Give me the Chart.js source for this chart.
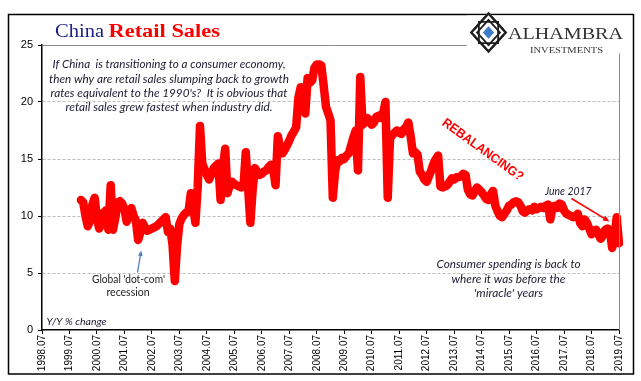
<!DOCTYPE html>
<html>
<head>
<meta charset="utf-8">
<script src="https://cdn.jsdelivr.net/npm/chart.js@4.4.0/dist/chart.umd.min.js"></script>
<style>
  html, body { margin: 0; padding: 0; background: #fff; }
</style>
</head>
<body>
<canvas id="chart" width="641" height="381"></canvas>
<script>
// monthly categories 1998.07 .. 2019.07, labelled every July
const firstYear = 1998, firstMonth = 7;
const lastYear = 2019, lastMonth = 7;
const months = [];
for (let y = firstYear; y <= lastYear; y++) {
    for (let m = 1; m <= 12; m++) {
        if (y === firstYear && m < firstMonth) continue;
        if (y === lastYear && m > lastMonth) break;
        months.push(y + '.' + String(m).padStart(2, '0'));
    }
}
const tickMonth = '.07';
const yTicks = [0, 5, 10, 15, 20, 25];

// China retail sales, Y/Y % change, starting 1999.12
const seriesStart = '1999.12';
const retailSales = [
    11.4,
    11.2, 10.0, 9.1, 9.6, 11.0, 11.6, 9.8, 8.9, 9.4, 10.3, 10.5, 8.8,        // 2000
    12.7, 8.8, 9.8, 11.2, 11.3, 11.1, 10.6, 9.5, 10.1, 10.7, 10.0, 9.6,      // 2001
    7.9, 8.6, 9.4, 9.0, 8.7, 8.8, 8.9, 9.0, 9.1, 9.3, 9.5, 9.7,              // 2002
    9.9, 8.6, 8.9, 7.5, 4.3, 7.4, 9.3, 9.8, 10.1, 10.3, 10.4, 12.0,          // 2003
    10.8, 9.4, 12.5, 17.9, 14.6, 14.1, 13.6, 13.2, 13.7, 14.2, 14.4, 14.6,   // 2004
    11.4, 14.2, 15.9, 12.0, 12.7, 13.0, 12.8, 12.7, 12.6, 12.5, 12.6, 15.6,  // 2005
    12.5, 9.4, 12.3, 14.2, 13.9, 13.6, 13.7, 13.9, 14.0, 14.3, 14.5, 14.1,   // 2006
    12.7, 17.0, 16.0, 15.5, 15.8, 16.2, 16.6, 17.1, 17.4, 17.8, 20.4, 21.3,  // 2007
    21.1, 19.0, 22.1, 21.7, 21.9, 23.0, 23.3, 23.3, 23.2, 21.5, 19.6, 19.0,  // 2008
    18.4, 11.6, 13.9, 14.9, 14.8, 15.1, 15.0, 15.3, 15.5, 16.2, 16.9, 17.5,  // 2009
    14.0, 22.2, 18.0, 18.2, 18.6, 18.4, 18.0, 18.2, 18.7, 18.8, 18.6, 19.0,  // 2010
    20.0, 11.6, 16.8, 17.1, 17.3, 17.5, 17.3, 17.2, 17.6, 17.8, 18.2, 17.0,  // 2011
    15.5, 15.6, 15.4, 13.9, 13.6, 13.2, 13.0, 13.5, 14.0, 14.6, 15.0, 15.3,  // 2012
    12.6, 12.5, 12.6, 12.7, 13.0, 13.3, 13.2, 13.4, 13.4, 13.5, 13.7, 13.6,  // 2013
    12.3, 11.9, 11.8, 12.2, 12.5, 12.3, 12.1, 11.8, 11.5, 11.4, 11.9, 12.2,  // 2014
    10.9, 10.4, 10.0, 9.9, 10.2, 10.5, 10.9, 11.0, 11.2, 11.3, 11.2, 10.9,   // 2015
    10.4, 10.3, 10.5, 10.6, 10.5, 10.8, 10.6, 10.7, 10.8, 10.7, 10.9, 11.0,  // 2016
    9.7, 10.8, 10.9, 10.7, 11.1, 11.0, 10.5, 10.2, 10.1, 10.0, 9.9, 10.0,    // 2017
    10.2, 9.4, 9.1, 9.7, 9.4, 8.9, 8.4, 8.7, 8.8, 8.4, 8.0, 8.3,             // 2018
    8.8, 8.9, 8.8, 7.2, 8.0, 9.9, 7.6                                        // 2019
];

const series = months.map(() => null);
const offset = months.indexOf(seriesStart);
retailSales.forEach((v, i) => { series[offset + i] = v; });

const noteTop = [
    'If China  is transitioning to a consumer economy,',
    'then why are retail sales slumping back to growth',
    "rates equivalent to the 1990's?  It is obvious that",
    'retail sales grew fastest when industry did.'
];
const noteBottom = [
    'Consumer spending is back to',
    'where it was before the',
    "'miracle' years"
];

// draw text squeezed/stretched to a given width
function fitText(ctx, s, x, y, w, align) {
    const mw = ctx.measureText(s).width;
    ctx.save();
    ctx.translate(x, y);
    ctx.scale(w / mw, 1);
    ctx.textAlign = align || 'left';
    ctx.fillText(s, 0, 0);
    ctx.restore();
}

function arrow(ctx, x1, y1, x2, y2, color, lw, head) {
    const a = Math.atan2(y2 - y1, x2 - x1);
    ctx.save();
    ctx.strokeStyle = color;
    ctx.fillStyle = color;
    ctx.lineWidth = lw;
    ctx.beginPath();
    ctx.moveTo(x1, y1);
    ctx.lineTo(x2 - Math.cos(a) * head * 0.8, y2 - Math.sin(a) * head * 0.8);
    ctx.stroke();
    ctx.beginPath();
    ctx.moveTo(x2, y2);
    ctx.lineTo(x2 - head * Math.cos(a - 0.4), y2 - head * Math.sin(a - 0.4));
    ctx.lineTo(x2 - head * Math.cos(a + 0.4), y2 - head * Math.sin(a + 0.4));
    ctx.closePath();
    ctx.fill();
    ctx.restore();
}

function drawLogo(ctx) {
    const cx = 488.5, cy = 32.5, rx = 18.5, ry = 20.5;
    const dia = f => {
        ctx.beginPath();
        ctx.moveTo(cx, cy - ry * f);
        ctx.lineTo(cx + rx * f, cy);
        ctx.lineTo(cx, cy + ry * f);
        ctx.lineTo(cx - rx * f, cy);
        ctx.closePath();
    };
    ctx.save();
    ctx.fillStyle = '#fff';
    dia(1); ctx.fill();
    ctx.strokeStyle = '#1e1e1e';
    ctx.lineWidth = 2.4;
    dia(0.93); ctx.stroke();
    ctx.lineWidth = 1.8;
    ctx.beginPath();
    ctx.rect(cx - rx * 0.52, cy - ry * 0.52, rx * 1.04, ry * 1.04);
    ctx.stroke();
    dia(0.62); ctx.stroke();
    // straps
    ctx.beginPath();
    ctx.moveTo(cx - rx * 0.47, cy - ry * 0.47); ctx.lineTo(cx - rx * 0.15, cy - ry * 0.78);
    ctx.moveTo(cx + rx * 0.47, cy - ry * 0.47); ctx.lineTo(cx + rx * 0.15, cy - ry * 0.78);
    ctx.moveTo(cx - rx * 0.47, cy + ry * 0.47); ctx.lineTo(cx - rx * 0.15, cy + ry * 0.78);
    ctx.moveTo(cx + rx * 0.47, cy + ry * 0.47); ctx.lineTo(cx + rx * 0.15, cy + ry * 0.78);
    ctx.moveTo(cx - rx * 0.78, cy - ry * 0.15); ctx.lineTo(cx - rx * 0.47, cy - ry * 0.47);
    ctx.moveTo(cx + rx * 0.78, cy - ry * 0.15); ctx.lineTo(cx + rx * 0.47, cy - ry * 0.47);
    ctx.moveTo(cx - rx * 0.78, cy + ry * 0.15); ctx.lineTo(cx - rx * 0.47, cy + ry * 0.47);
    ctx.moveTo(cx + rx * 0.78, cy + ry * 0.15); ctx.lineTo(cx + rx * 0.47, cy + ry * 0.47);
    ctx.stroke();
    ctx.fillStyle = '#3d7cc9';
    dia(0.3); ctx.fill();
    ctx.restore();
}

const decor = {
    id: 'decor',
    beforeDraw(chart) {
        const ctx = chart.ctx;
        ctx.save();
        ctx.fillStyle = '#fff';
        ctx.fillRect(0, 0, chart.width, chart.height);
        ctx.restore();
    },
    afterDraw(chart) {
        const ctx = chart.ctx;
        const a = chart.chartArea;
        ctx.save();

        // plot area border (top and right)
        ctx.strokeStyle = '#8c8c8c';
        ctx.lineWidth = 1;
        ctx.beginPath();
        ctx.moveTo(a.left, Math.round(a.top) + 0.5);
        ctx.lineTo(Math.round(a.right) + 0.5, Math.round(a.top) + 0.5);
        ctx.lineTo(Math.round(a.right) + 0.5, a.bottom);
        ctx.stroke();

        // outer frame
        ctx.strokeStyle = '#000';
        ctx.lineWidth = 1.5;
        ctx.strokeRect(8.5, 14.5, 625, 359.5);

        // logo
        ctx.fillStyle = '#fff';
        ctx.fillRect(467, 15.5, 165, 38);
        drawLogo(ctx);
        ctx.fillStyle = '#333';
        ctx.font = '16px "Liberation Serif"';
        fitText(ctx, 'ALHAMBRA', 508, 38.5, 115);
        ctx.font = '9px "Liberation Serif"';
        fitText(ctx, 'INVESTMENTS', 530, 52.5, 73);

        // title
        ctx.font = '18px "Liberation Serif"';
        ctx.fillStyle = '#1c1c86';
        fitText(ctx, 'China', 55, 37, 49);
        ctx.font = 'bold 18px "Liberation Serif"';
        ctx.fillStyle = '#ff0000';
        fitText(ctx, 'Retail Sales', 108.5, 37, 111.5);

        // notes
        ctx.fillStyle = '#1a1a30';
        ctx.font = 'italic 12px Lato';
        const topW = [233, 240, 237, 207];
        const topY = [68, 82.5, 97, 111];
        noteTop.forEach((s, i) => fitText(ctx, s, 169, topY[i], topW[i], 'center'));

        const botW = [144, 114, 69];
        const botY = [267.5, 282.5, 296.5];
        noteBottom.forEach((s, i) => fitText(ctx, s, 508.5, botY[i], botW[i], 'center'));

        ctx.font = 'italic 11px Lato';
        fitText(ctx, 'June 2017', 545, 195, 46.5);
        ctx.font = 'italic 10px Lato';
        fitText(ctx, 'Y/Y % change', 46.5, 325, 60);

        ctx.fillStyle = '#222';
        ctx.font = '11px Lato';
        fitText(ctx, "Global 'dot-com'", 128.5, 283, 73, 'center');
        fitText(ctx, 'recession', 128, 296, 43, 'center');

        arrow(ctx, 137.5, 272.5, 141.2, 250.5, '#4a7ebb', 1.3, 6);
        arrow(ctx, 571.5, 198.5, 609.5, 221.5, '#ff0000', 1.6, 7);

        // rebalancing
        ctx.save();
        ctx.translate(482.5, 150);
        ctx.rotate(36 * Math.PI / 180);
        ctx.fillStyle = '#ff0000';
        ctx.font = 'bold 13px "Liberation Sans"';
        ctx.textBaseline = 'middle';
        fitText(ctx, 'REBALANCING?', 0, 0, 97, 'center');
        ctx.restore();

        ctx.restore();
    }
};

new Chart(document.getElementById('chart'), {
    type: 'line',
    data: {
        labels: months,
        datasets: [{
            label: 'China Retail Sales',
            data: series,
            borderColor: '#ff0000',
            borderWidth: 8.5,
            pointRadius: 0,
            tension: 0,
            fill: false,
            borderJoinStyle: 'round',
            borderCapStyle: 'round'
        }]
    },
    options: {
        responsive: false,
        animation: false,
        layout: { padding: { top: 45, right: 22, left: 0, bottom: 0 } },
        plugins: {
            legend: { display: false },
            tooltip: { enabled: false }
        },
        scales: {
            x: {
                type: 'category',
                offset: false,
                grid: { drawOnChartArea: false, tickLength: 4, tickColor: '#000', color: '#000' },
                border: { color: '#000', width: 1.5 },
                ticks: {
                    autoSkip: false,
                    minRotation: 90,
                    maxRotation: 90,
                    padding: 1,
                    color: '#000',
                    font: { family: 'Liberation Sans', size: 10 },
                    callback: function (v) { return this.getLabelForValue(v); }
                },
                afterBuildTicks: axis => {
                    axis.ticks = axis.ticks.filter(t => months[t.value].endsWith(tickMonth));
                },
                afterFit: s => { s.height = 51; }
            },
            y: {
                min: yTicks[0],
                max: yTicks[yTicks.length - 1],
                ticks: {
                    stepSize: 5,
                    padding: 5,
                    color: '#000',
                    font: { family: 'Liberation Sans', size: 11 }
                },
                grid: {
                    color: c => (c.tick && (c.tick.value === 0 || c.tick.value === 25)) ? 'rgba(0,0,0,0)' : '#bdbdbd',
                    tickColor: '#000',
                    tickLength: 4,
                    lineWidth: 1
                },
                border: { color: '#000', width: 1.5, dash: [3, 2] },
                afterFit: s => { s.width = 42; }
            }
        }
    },
    plugins: [decor]
});
</script>
</body>
</html>
